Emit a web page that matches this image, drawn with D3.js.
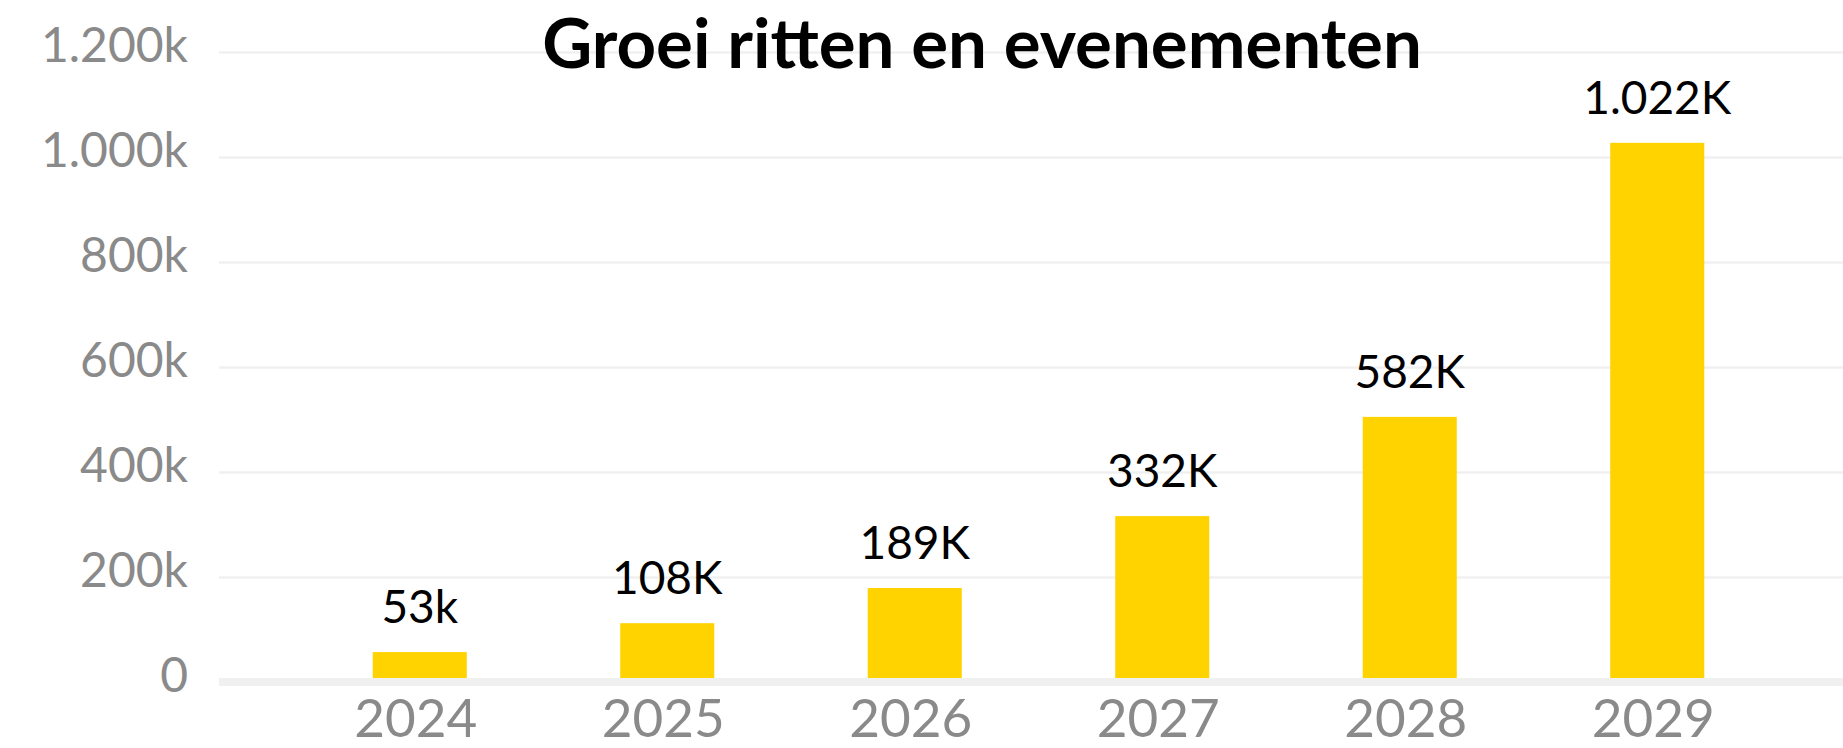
<!DOCTYPE html>
<html>
<head>
<meta charset="utf-8">
<script src="https://cdn.jsdelivr.net/npm/d3@7"></script>
<style>
  body { margin: 0; background: #fff; }
  svg { display: block; }
</style>
</head>
<body>
<div id="chart-area"></div>
<script>
var years = ["2024", "2025", "2026", "2027", "2028", "2029"];
var values = [57, 112, 179, 316, 505, 1027];          // thousands
var valueLabels = ["53k", "108K", "189K", "332K", "582K", "1.022K"];
var yTicks = [0, 200, 400, 600, 800, 1000, 1200];
var title = "Groei ritten en evenementen";

var width = 1843, height = 748;
var plotLeft = 219;
var font = "'Lato', 'Noto Sans', sans-serif";

var svg = d3.select("#chart-area").append("svg")
    .attr("width", width)
    .attr("height", height);

var x = d3.scaleBand()
    .domain(years)
    .range([296, 1781])
    .paddingInner(0.62)
    .paddingOuter(0.31);

var y = d3.scaleLinear()
    .domain([0, 1200])
    .range([682, 52]);

// gridlines + y labels
var yAxis = svg.append("g")
    .attr("transform", "translate(" + plotLeft + ",0)")
    .call(d3.axisLeft(y)
        .tickValues(yTicks)
        .tickSizeInner(-(width - plotLeft))
        .tickSizeOuter(0)
        .tickPadding(31)
        .tickFormat((d) => d === 0 ? "0" : d3.format(",")(d).replace(",", ".") + "k"));

yAxis.select(".domain").remove();
yAxis.selectAll(".tick line")
    .attr("stroke", "#f0f0f0")
    .attr("stroke-width", 2.5);
yAxis.selectAll(".tick text")
    .attr("dy", "0.2em")
    .attr("fill", "#8a8a8a")
    .style("font-family", font)
    .style("font-size", "48px")
    .style("font-weight", 400);

// bars
svg.selectAll("rect.bar")
    .data(values)
    .enter().append("rect")
    .attr("class", "bar")
    .attr("x", (d, i) => x(years[i]))
    .attr("y", (d) => y(d))
    .attr("width", x.bandwidth())
    .attr("height", (d) => y(0) - y(d))
    .attr("fill", "#ffd300");

// value labels
svg.selectAll("text.val")
    .data(values)
    .enter().append("text")
    .attr("class", "val")
    .attr("x", (d, i) => x(years[i]) + x.bandwidth() / 2)
    .attr("y", (d) => y(d) - 29)
    .attr("text-anchor", "middle")
    .attr("fill", "#000")
    .style("font-family", font)
    .style("font-size", "46px")
    .style("font-weight", 400)
    .text((d, i) => valueLabels[i]);

// baseline
svg.append("line")
    .attr("x1", plotLeft)
    .attr("x2", width)
    .attr("y1", y(0))
    .attr("y2", y(0))
    .attr("stroke", "#f0f0f0")
    .attr("stroke-width", 8);

// x axis labels
var xAxis = svg.append("g")
    .attr("transform", "translate(0," + y(0) + ")")
    .call(d3.axisBottom(x).tickSize(0));

xAxis.select(".domain").remove();
xAxis.selectAll(".tick text")
    .attr("y", 55)
    .attr("dy", 0)
    .attr("dx", -4)
    .attr("fill", "#8a8a8a")
    .style("font-family", font)
    .style("font-size", "53px")
    .style("font-weight", 400);

// title
svg.append("text")
    .attr("x", 982)
    .attr("y", 68)
    .attr("text-anchor", "middle")
    .attr("fill", "#000")
    .style("font-family", font)
    .style("font-size", "69px")
    .style("font-weight", 700)
    .text(title);
</script>
</body>
</html>
